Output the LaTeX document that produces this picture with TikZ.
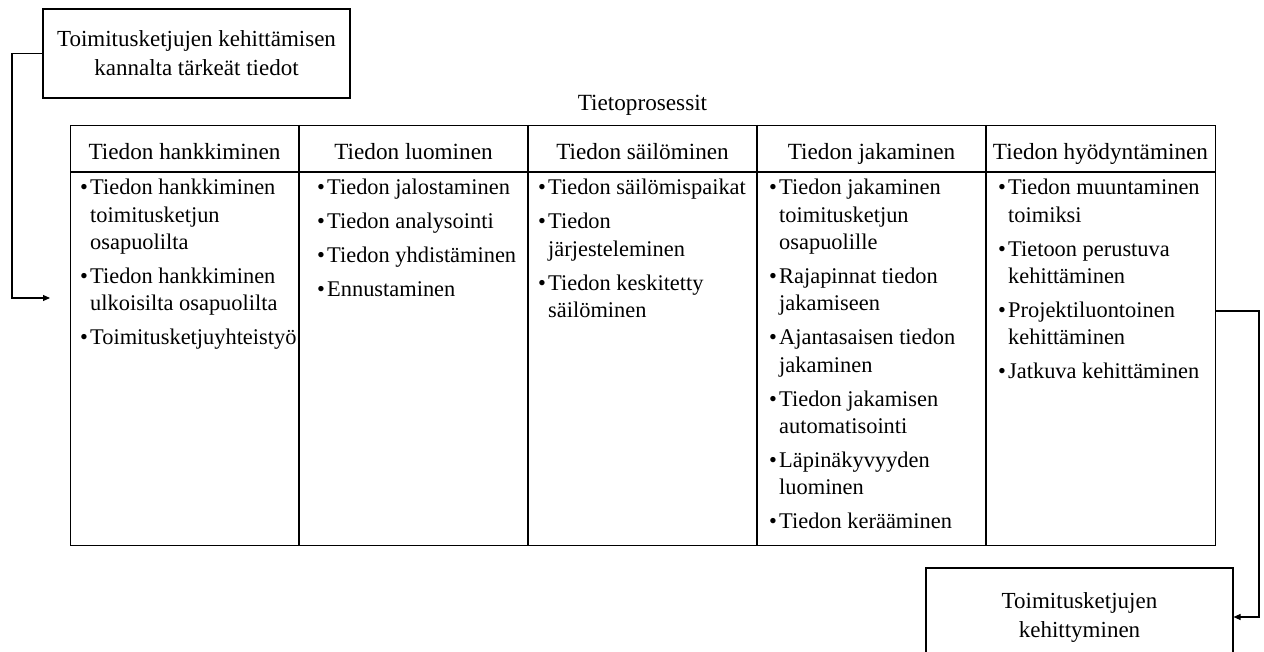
\documentclass[tikz,border=0pt]{standalone}
\usepackage{fontspec}
\setmainfont{Liberation Serif}
\usetikzlibrary{arrows.meta}

\newcommand\bodyfont{\fontsize{22.4}{27.3}\selectfont}
\newcommand\headfont{\fontsize{23.2}{27.3}\selectfont}
\newcommand\boxfont{\fontsize{23}{29}\selectfont}
\newcommand\itm{\makebox[10pt][l]{\textbullet}}
\newcommand\gap{\\[6.7pt]}

\tikzset{
  frame/.style={draw=black, line width=1.1pt},
  textbox/.style={frame, align=center, inner sep=0pt, font=\boxfont},
  conn/.style={draw=black, line width=1.1pt, -{Triangle[length=7pt,width=6pt]}},
  head/.style={anchor=base, inner sep=0pt, font=\headfont},
  items/.style={anchor=base west, inner sep=0pt, font=\bodyfont},
}

\begin{document}
\begin{tikzpicture}[x=1pt, y=-1pt]
  \useasboundingbox (0,0) rectangle (1264,652);
  \clip (0,0) rectangle (1264,652);

  % input and output boxes
  \node[textbox, minimum width=307pt, minimum height=89pt] (src) at (196.5,53.5)
    {Toimitusketjujen kehittämisen\\kannalta tärkeät tiedot};
  \node[textbox, minimum width=307pt, minimum height=98pt] (dst) at (1079.5,617)
    {Toimitusketjujen\\kehittyminen};

  % table title
  \node[head] (title) at (642.5,111) {Tietoprosessit};

  % table frame and grid
  \node[frame, minimum width=1145pt, minimum height=420pt, anchor=north west,
        inner sep=0pt] (tab) at (70,125) {};
  \draw[frame] (70,172) -- (1215,172);
  \foreach \x in {299,528,757,986} \draw[frame] (\x,125) -- (\x,545);

  % column headers
  \node[head] (h1) at (184.5,160) {Tiedon hankkiminen};
  \node[head] (h2) at (413.5,160) {Tiedon luominen};
  \node[head] (h3) at (642.5,160) {Tiedon säilöminen};
  \node[head] (h4) at (871.5,160) {Tiedon jakaminen};
  \node[head] (h5) at (1100.5,160) {Tiedon hyödyntäminen};

  % column contents
  \node[items] (c1) at (80,195) {\begin{tabular}[t]{@{}l@{}l@{}}
    \itm & Tiedon hankkiminen\\ & toimitusketjun\\ & osapuolilta\gap
    \itm & Tiedon hankkiminen\\ & ulkoisilta osapuolilta\gap
    \itm & Toimitusketjuyhteistyö
  \end{tabular}};
  \node[items] (c2) at (317,195) {\begin{tabular}[t]{@{}l@{}l@{}}
    \itm & Tiedon jalostaminen\gap
    \itm & Tiedon analysointi\gap
    \itm & Tiedon yhdistäminen\gap
    \itm & Ennustaminen
  \end{tabular}};
  \node[items] (c3) at (538,195) {\begin{tabular}[t]{@{}l@{}l@{}}
    \itm & Tiedon säilömispaikat\gap
    \itm & Tiedon\\ & järjesteleminen\gap
    \itm & Tiedon keskitetty\\ & säilöminen
  \end{tabular}};
  \node[items] (c4) at (769,195) {\begin{tabular}[t]{@{}l@{}l@{}}
    \itm & Tiedon jakaminen\\ & toimitusketjun\\ & osapuolille\gap
    \itm & Rajapinnat tiedon\\ & jakamiseen\gap
    \itm & Ajantasaisen tiedon\\ & jakaminen\gap
    \itm & Tiedon jakamisen\\ & automatisointi\gap
    \itm & Läpinäkyvyyden\\ & luominen\gap
    \itm & Tiedon kerääminen
  \end{tabular}};
  \node[items] (c5) at (998,195) {\begin{tabular}[t]{@{}l@{}l@{}}
    \itm & Tiedon muuntaminen\\ & toimiksi\gap
    \itm & Tietoon perustuva\\ & kehittäminen\gap
    \itm & Projektiluontoinen\\ & kehittäminen\gap
    \itm & Jatkuva kehittäminen
  \end{tabular}};

  % connectors
  \coordinate (lbend) at (12,298);
  \coordinate (lend) at (50,298);
  \coordinate (rstart) at (1215,311);
  \coordinate (rbend) at (1259,311);
  \draw[conn] (src.west) -| (lbend) -- (lend);
  \draw[conn] (rstart) -- (rbend) |- (dst.east);
\end{tikzpicture}
\end{document}
